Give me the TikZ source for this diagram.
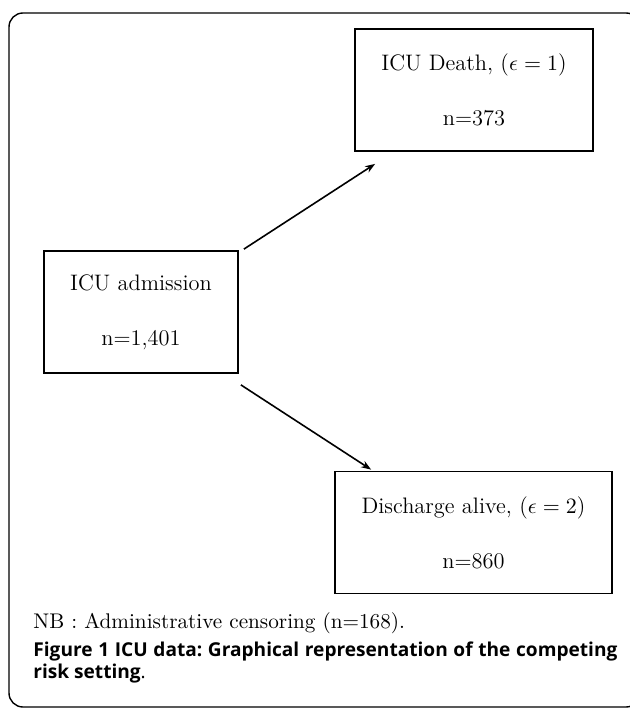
\documentclass[tikz,border=0pt]{standalone}
\usepackage{fontspec}
\newfontfamily\capfont{Open Sans}
\usetikzlibrary{arrows.meta, calc}

\begin{document}
\begin{tikzpicture}[
    x=0.5pt, y=-0.5pt,
    every node/.style={font=\fontsize{11.2}{13.5}\selectfont, align=center},
    state/.style={draw, line width=0.9pt, minimum height=61pt, inner sep=0pt},
    flow/.style={-{Stealth[length=5pt, width=3.6pt]}, line width=0.8pt}
  ]
    \useasboundingbox (0,0) rectangle (629,710);
    \draw[line width=0.7pt, rounded corners=7pt] (9,13) rectangle (640,707);

    \node[state, minimum width=97pt] (adm) at (141,312) {ICU admission\\[14pt] n=1,401};
    \node[state, minimum width=119pt] (death) at (474,90) {ICU Death, ($\epsilon = 1$)\\[14pt] n=373};
    \node[state, minimum width=138.5pt] (dis) at (473.5,532.5) {Discharge alive, ($\epsilon = 2$)\\[14pt] n=860};

    \draw[flow] ([shift={(5,-1)}]adm.north east) -- ([shift={(21,12)}]death.south west);
    \draw[flow] ([shift={(2,11)}]adm.south east) -- ([shift={(37,-1)}]dis.north west);

    \node[anchor=west, inner sep=0pt, font=\fontsize{10.6}{12.5}\selectfont] (nb) at (33,623)
      {NB : Administrative censoring (n=168).};
    \node[anchor=north west, inner sep=0pt, text width=292pt, align=justify,
          font=\capfont\fontsize{9.55}{11}\selectfont\frenchspacing] (cap) at (33,641)
      {\textbf{Figure 1 ICU data: Graphical representation of the competing\linebreak risk setting}.};
  \end{tikzpicture}
\end{document}
